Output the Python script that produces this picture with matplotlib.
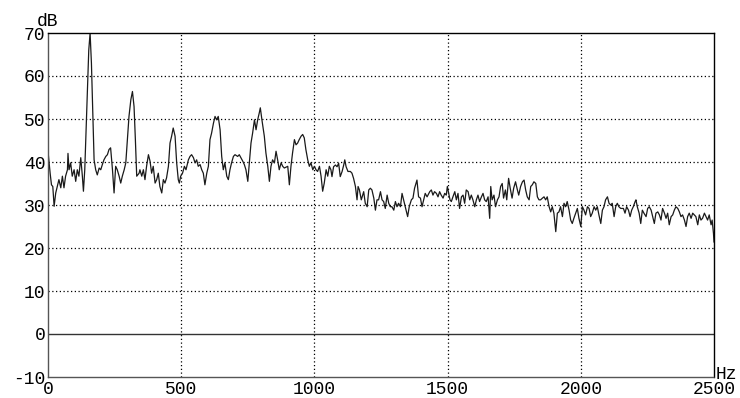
import matplotlib
matplotlib.use('Agg')
from matplotlib import pyplot as plt

# Spectrum
freq_hz = [
    0, 8, 13, 18, 23, 29, 35, 41, 48, 54, 60, 66, 73, 75, 79, 85, 91, 98, 104, 110,
    116, 123, 129, 133, 138, 143, 148, 153, 158, 163, 168, 173, 179, 185, 192, 198,
    204, 210, 217, 223, 229, 235, 242, 248, 254, 260, 267, 273, 279, 286, 292, 298,
    304, 311, 317, 323, 328, 333, 342, 345, 352, 358, 364, 370, 377, 383, 389, 395,
    402, 408, 414, 420, 427, 433, 439, 445, 452, 458, 464, 470, 477, 483, 489, 493,
    498, 505, 512, 518, 527, 533, 539, 546, 552, 558, 564, 571, 577, 583, 589, 596,
    602, 608, 614, 621, 627, 633, 639, 646, 652, 658, 664, 671, 677, 683, 689, 696,
    702, 712, 718, 724, 731, 737, 743, 750, 756, 762, 768, 775, 781, 787, 793, 797,
    803, 812, 818, 825, 831, 837, 843, 850, 856, 862, 868, 875, 881, 887, 900, 906,
    912, 918, 925, 931, 937, 943, 950, 956, 962, 968, 975, 981, 987, 994, 1000, 1006,
    1012, 1019, 1025, 1031, 1037, 1044, 1050, 1056, 1062, 1066, 1072, 1079, 1085, 1091,
    1097, 1104, 1110, 1114, 1119, 1126, 1135, 1141, 1147, 1154, 1160, 1164, 1169, 1176,
    1185, 1191, 1198, 1204, 1210, 1216, 1223, 1229, 1235, 1241, 1248, 1254, 1260, 1266,
    1273, 1279, 1285, 1291, 1298, 1304, 1310, 1316, 1323, 1329, 1335, 1341, 1350, 1356,
    1364, 1370, 1376, 1385, 1391, 1398, 1404, 1410, 1416, 1423, 1433, 1439, 1445, 1451,
    1458, 1464, 1470, 1476, 1483, 1489, 1495, 1499, 1504, 1509, 1514, 1520, 1527, 1533,
    1539, 1545, 1552, 1558, 1564, 1570, 1577, 1583, 1589, 1595, 1602, 1608, 1614, 1620,
    1627, 1633, 1639, 1645, 1652, 1658, 1662, 1667, 1674, 1680, 1687, 1693, 1699, 1705,
    1710, 1717, 1722, 1729, 1735, 1742, 1748, 1755, 1762, 1767, 1774, 1781, 1787, 1793,
    1799, 1806, 1812, 1818, 1824, 1831, 1837, 1843, 1849, 1856, 1862, 1868, 1874, 1881,
    1887, 1893, 1899, 1906, 1912, 1918, 1924, 1931, 1937, 1943, 1949, 1956, 1962, 1968,
    1974, 1981, 1987, 1993, 2000, 2006, 2012, 2018, 2025, 2031, 2037, 2043, 2050, 2056,
    2062, 2068, 2075, 2081, 2087, 2093, 2100, 2106, 2112, 2118, 2125, 2131, 2137, 2143,
    2150, 2160, 2166, 2172, 2179, 2185, 2191, 2197, 2204, 2207, 2212, 2219, 2225, 2231,
    2237, 2245, 2251, 2257, 2264, 2270, 2276, 2282, 2289, 2295, 2301, 2307, 2314, 2320,
    2326, 2332, 2339, 2345, 2351, 2357, 2364, 2370, 2376, 2382, 2389, 2395, 2401, 2407,
    2414, 2420, 2426, 2432, 2439, 2445, 2451, 2457, 2464, 2470, 2476, 2482, 2489, 2493,
    2498, 2500]

level_db = [
    42.5, 37.4, 34.7, 34.3, 29.7, 32.8, 34.3, 35.9, 34.0, 36.7, 34.0, 36.7, 38.2, 42.0, 38.2, 39.8, 36.7, 38.2, 35.5, 38.2,
    36.7, 41.0, 36.7, 33.2, 38.2, 47.5, 56.8, 66.0, 70.0, 63.0, 51.4, 40.5, 38.2, 37.0, 38.6, 38.2,
    39.4, 40.5, 41.3, 41.7, 42.9, 43.3, 38.2, 32.8, 39.0, 38.2, 36.7, 35.1, 36.7, 38.2, 39.8, 45.2,
    50.6, 54.5, 56.4, 52.9, 45.2, 36.7, 37.4, 38.2, 36.7, 38.2, 35.9, 39.0, 41.7, 40.2, 37.4, 39.0,
    35.1, 35.9, 37.4, 34.3, 32.8, 35.9, 35.1, 36.3, 39.0, 44.4, 46.0, 47.9, 46.0, 39.8, 35.9, 35.1,
    36.7, 37.4, 39.0, 38.2, 40.5, 41.3, 41.7, 41.0, 39.8, 40.5, 39.0, 39.4, 38.2, 37.4, 34.7, 37.4,
    39.0, 45.2, 46.7, 49.0, 50.6, 49.8, 50.6, 47.5, 41.3, 38.2, 39.8, 36.7, 35.9, 38.2, 39.8, 41.3,
    41.7, 41.3, 41.7, 41.0, 40.2, 39.4, 38.2, 35.5, 39.8, 44.4, 46.7, 49.8, 47.5, 49.8, 51.4, 52.6,
    49.8, 46.0, 42.1, 39.0, 35.5, 39.0, 40.5, 39.8, 42.5, 40.5, 38.2, 39.8, 39.0, 38.6, 39.0, 34.7,
    39.0, 42.1, 45.2, 44.0, 44.4, 45.2, 46.0, 46.4, 45.6, 42.9, 40.5, 39.0, 39.8, 38.2, 39.0, 38.2,
    37.8, 39.0, 36.7, 33.2, 35.1, 38.2, 36.7, 39.0, 38.2, 36.6, 38.9, 39.3, 38.9, 39.7,
    36.6, 37.8, 39.3, 40.5, 38.9, 37.8, 37.8, 37.4, 36.2, 34.3, 31.2, 34.3, 33.5, 31.2,
    33.1, 30.4, 29.6, 33.5, 33.9, 33.5, 31.6, 28.8, 31.2, 31.2, 33.1, 31.2, 30.8, 29.2,
    32.3, 30.4, 29.6, 29.6, 28.8, 30.8, 29.6, 30.4, 29.6, 32.7, 31.2, 29.6, 27.3, 29.6,
    31.2, 31.6, 33.9, 35.8, 31.9, 31.6, 29.6, 31.2, 32.7, 31.9, 33.1, 33.5, 32.3, 33.1,
    32.7, 31.9, 33.1, 32.3, 31.6, 32.7, 32.3, 34.3, 32.7, 31.2, 30.8, 31.9, 33.1, 31.2,
    32.7, 29.2, 31.9, 32.3, 30.4, 33.5, 33.1, 31.2, 32.3, 31.2, 29.6, 31.2, 32.3, 30.8,
    31.9, 32.7, 31.2, 30.8, 31.9, 26.9, 34.3, 31.2, 32.3, 29.6, 31.2, 31.9, 34.3, 35.0,
    31.6, 33.5, 31.2, 36.2, 33.9, 31.6, 33.9, 35.4, 33.5, 32.3, 34.3, 35.4, 35.8, 33.5,
    31.9, 31.2, 34.3, 34.7, 35.4, 35.0, 31.9, 31.2, 31.2, 31.6, 31.9, 31.2, 31.9, 29.6,
    28.4, 29.6, 28.1, 23.8, 28.1, 28.4, 29.6, 27.3, 30.4, 29.6, 30.8, 28.8, 26.5, 25.7,
    26.9, 28.1, 29.2, 26.9, 25.0, 29.6, 28.8, 27.7, 29.6, 29.2, 27.3, 28.1, 29.6, 28.8,
    29.6, 27.7, 25.7, 28.8, 29.6, 31.2, 31.9, 30.4, 30.0, 30.4, 27.3, 29.6, 30.4, 29.6,
    29.2, 29.2, 28.1, 29.6, 28.8, 27.3, 28.8, 29.6, 30.8, 31.2, 29.6, 28.1, 25.7, 28.8,
    28.1, 27.3, 29.2, 29.6, 28.8, 27.3, 25.7, 28.1, 28.4, 27.7, 26.5, 29.2, 28.1, 26.9,
    28.1, 25.4, 27.3, 27.7, 28.8, 29.6, 29.2, 28.4, 27.3, 27.7, 26.5, 25.0, 27.3, 28.1,
    26.9, 28.1, 27.7, 27.3, 25.4, 27.7, 26.5, 26.9, 28.1, 27.3, 26.5, 27.7, 25.4, 26.5,
    23.4, 21.4]

x_ticks = [0, 500, 1000, 1500, 2000, 2500]
y_ticks = [-10, 0, 10, 20, 30, 40, 50, 60, 70]

plt.rcParams['font.family'] = ['Liberation Mono', 'DejaVu Sans Mono']
plt.rcParams['font.size'] = 13
plt.rcParams['axes.unicode_minus'] = False

fig = plt.figure(figsize=(7.4, 3.98), dpi=100)
ax = fig.add_axes([48/740, 1 - 377/398, 666/740, 344/398])

# Dotted grid, solid zero line
for y in y_ticks[2:-1]:
    ax.axhline(y, color='black', linestyle=(0, (1, 2)), linewidth=0.9, zorder=1)
for x in x_ticks[1:-1]:
    ax.axvline(x, color='black', linestyle=(0, (1, 2)), linewidth=0.9, zorder=1)
ax.axhline(0, color='#333333', linewidth=1.0, zorder=1)

ax.plot(freq_hz, level_db, color='#1a1a1a', linewidth=0.9, zorder=2)

ax.set_xlim(0, 2500)
ax.set_ylim(-10, 70)
ax.set_xticks(x_ticks)
ax.set_yticks(y_ticks)
ax.tick_params(length=0)
ax.tick_params(axis='y', pad=2)
ax.tick_params(axis='x', pad=3)

ax.spines['top'].set_color('black')
ax.spines['right'].set_color('black')
ax.spines['left'].set_color('#555555')
ax.spines['bottom'].set_color('#555555')
ax.spines['bottom'].set_linestyle((0, (1, 1)))
for s in ax.spines.values():
    s.set_linewidth(1.0)

# Axis unit labels
fig.text(37/740, 1 - 26/398, 'dB', va='baseline', ha='left')
fig.text(716/740, 1 - 379/398, 'Hz', va='baseline', ha='left')

fig.savefig('out.png', dpi=100)
